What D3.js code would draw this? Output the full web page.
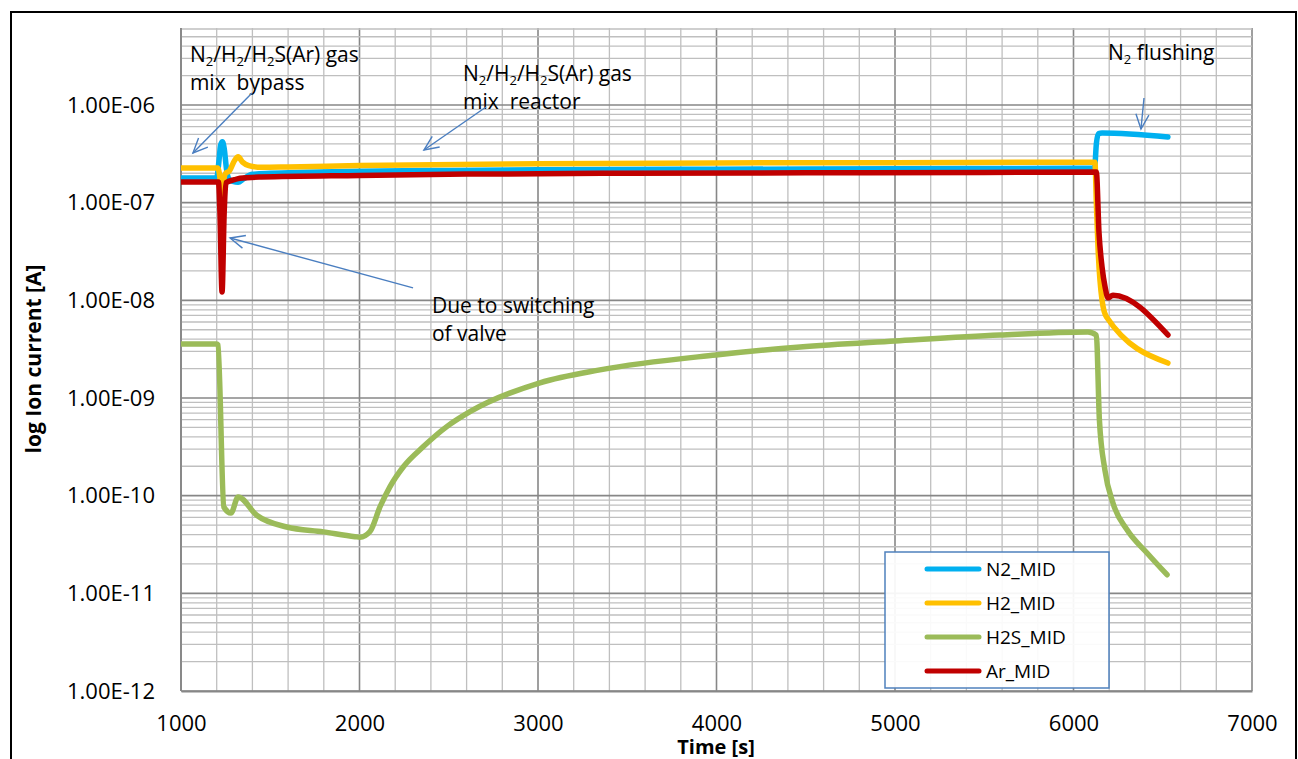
<!DOCTYPE html>
<html>
<head>
<meta charset="utf-8">
<script src="https://cdn.jsdelivr.net/npm/d3@7"></script>
<style>
  body { margin: 0; background: #fff; }
  svg { display: block; font-family: "Open Sans", "Liberation Sans", sans-serif; }
  .ann { white-space: pre; }
</style>
</head>
<body>
<svg id="chart" width="1298" height="759"></svg>
<script>
// ---------------- data ----------------
const seriesNames = ["N2_MID", "H2_MID", "H2S_MID", "Ar_MID"];

const n2Time = [1000, 1200, 1212, 1222, 1232, 1242, 1255, 1268, 1290, 1320, 1350, 1400, 1500, 1700, 2000, 2500, 3000, 4000, 5000, 6000, 6118, 6128, 6140, 6160, 6529];
const n2Values = [1.79e-7, 1.79e-7, 2.6e-7, 3.9e-7, 4.2e-7, 3.6e-7, 2.2e-7, 1.75e-7, 1.65e-7, 1.62e-7, 1.75e-7, 1.95e-7, 2.0e-7, 2.05e-7, 2.1e-7, 2.14e-7, 2.17e-7, 2.2e-7, 2.22e-7, 2.25e-7, 2.25e-7, 4.0e-7, 5.1e-7, 5.17e-7, 4.7e-7];

const h2Time = [1000, 1205, 1218, 1228, 1238, 1250, 1270, 1300, 1320, 1345, 1380, 1450, 1600, 2000, 3000, 4000, 5000, 6000, 6120, 6128, 6138, 6160, 6185, 6529];
const h2Values = [2.27e-7, 2.27e-7, 1.8e-7, 1.0e-7, 1.6e-7, 2.0e-7, 2.1e-7, 2.7e-7, 2.95e-7, 2.6e-7, 2.4e-7, 2.3e-7, 2.32e-7, 2.4e-7, 2.5e-7, 2.55e-7, 2.57e-7, 2.6e-7, 2.6e-7, 1.0e-7, 3.27e-8, 1.0e-8, 6.76e-9, 2.28e-9];

const h2sTime = [1000, 1200, 1207, 1240, 1280, 1320, 1424, 1592, 1797, 1975, 2003, 2059, 2115, 2171, 2246, 2358, 2489, 2619, 3011, 3347, 3997, 4468, 5000, 5588, 6081, 6128, 6145, 6176, 6221, 6300, 6412, 6524];
const h2sValues = [3.57e-9, 3.57e-9, 3.5e-9, 7.66e-11, 6.65e-11, 9.7e-11, 6.3e-11, 4.78e-11, 4.26e-11, 3.8e-11, 3.76e-11, 4.3e-11, 7.7e-11, 1.24e-10, 1.98e-10, 3.18e-10, 5.09e-10, 7.24e-10, 1.43e-9, 1.94e-9, 2.76e-9, 3.33e-9, 3.83e-9, 4.41e-9, 4.74e-9, 4.4e-9, 6.0e-10, 1.83e-10, 8.4e-11, 4.47e-11, 2.59e-11, 1.55e-11];

const arTime = [1000, 1210, 1218, 1230, 1242, 1252, 1300, 1330, 1450, 2000, 2600, 3500, 4500, 5500, 6128, 6143, 6160, 6177, 6193, 6221, 6529];
const arValues = [1.63e-7, 1.63e-7, 8e-8, 1.22e-8, 8e-8, 1.6e-7, 1.72e-7, 1.78e-7, 1.83e-7, 1.9e-7, 1.96e-7, 2.0e-7, 2.02e-7, 2.04e-7, 2.06e-7, 4.89e-8, 2.19e-8, 1.37e-8, 1.06e-8, 1.13e-8, 4.42e-9];

const seriesColors = ["#00B0F0", "#FFC000", "#9BBB59", "#C00000"];

const xTickValues = [1000, 2000, 3000, 4000, 5000, 6000, 7000];
const yTickValues = [1e-12, 1e-11, 1e-10, 1e-9, 1e-8, 1e-7, 1e-6];

// annotations: text lines (with _x subscripts) anchored in data coordinates
const annotationTexts = [
  ["N_2/H_2/H_2S(Ar) gas", "mix  bypass"],
  ["N_2/H_2/H_2S(Ar) gas", "mix  reactor"],
  ["Due to switching", "of valve"],
  ["N_2 flushing"]
];
const annotationAnchors = [[1050, 2.75e-6], [2580, 1.75e-6], [2406, 7.4e-9], [6193, 2.9e-6]];
const arrowFrom = [[1398, 1.33e-6], [2709, 9.54e-7], [2300, 1.34e-8], [6395, 1.18e-6]];
const arrowTo = [[1067, 3.23e-7], [2361, 3.46e-7], [1275, 4.35e-8], [6378, 5.68e-7]];

// ---------------- layout ----------------
const svg = d3.select("#chart");
const plotLeft = 181, plotRight = 1252, plotTop = 28, plotBottom = 691;

const x = d3.scaleLinear().domain([1000, 7000]).range([plotLeft, plotRight]);
const y = d3.scaleLog().domain([1e-12, 1e-6]).range([plotBottom, 105]);
const yMax = y.invert(plotTop);

// outer frame
svg.append("rect").attr("x", 11).attr("y", 12).attr("width", 1285).attr("height", 800)
  .attr("fill", "#fff").attr("stroke", "#000").attr("stroke-width", 2);

// gridlines
const grid = svg.append("g");
const xGrid = d3.range(1000, 7001, 200);
grid.selectAll("line.vx").data(xGrid).join("line")
  .attr("x1", d => x(d)).attr("x2", d => x(d))
  .attr("y1", plotTop).attr("y2", plotBottom)
  .attr("stroke", d => d % 1000 === 0 ? "#878787" : "#BFBFBF")
  .attr("stroke-width", d => d % 1000 === 0 ? 1.6 : 1.3);

const yGrid = [];
for (let e = -12; e <= -6; e++) {
  for (let m = 1; m <= 9; m++) {
    const v = m * Math.pow(10, e);
    if (v <= yMax * 1.0001) yGrid.push({ v, major: m === 1 });
  }
}
grid.selectAll("line.hy").data(yGrid).join("line")
  .attr("x1", plotLeft).attr("x2", plotRight)
  .attr("y1", d => y(d.v)).attr("y2", d => y(d.v))
  .attr("stroke", d => d.major ? "#878787" : "#BFBFBF")
  .attr("stroke-width", d => d.major ? 1.6 : 1.3);

// axes
function fmtExp(d) {
  const e = Math.round(Math.log10(d));
  const m = d / Math.pow(10, e);
  const s = e < 0 ? "-" : "+";
  return m.toFixed(2) + "E" + s + String(Math.abs(e)).padStart(2, "0");
}
const xAxis = svg.append("g").attr("transform", `translate(0,${plotBottom})`)
  .call(d3.axisBottom(x).tickValues(xTickValues).tickSize(0).tickPadding(24).tickFormat(d3.format("d")));
const yAxis = svg.append("g").attr("transform", `translate(${plotLeft},0)`)
  .call(d3.axisLeft(y).tickValues(yTickValues).tickSize(0).tickPadding(26).tickFormat(fmtExp));
[xAxis, yAxis].forEach(a => {
  a.select(".domain").attr("stroke", "#878787").attr("stroke-width", 1.8);
  a.selectAll("text").attr("font-size", 22).attr("fill", "#000")
    .attr("font-family", "'Open Sans', sans-serif");
});
yAxis.select(".domain").attr("d", `M0,${plotBottom}V${plotTop}`);

// axis titles
svg.append("text").attr("x", 716).attr("y", 754).attr("text-anchor", "middle")
  .attr("font-size", 20).attr("font-weight", "bold").text("Time [s]");
svg.append("text").attr("transform", "translate(41,359) rotate(-90)").attr("text-anchor", "middle")
  .attr("font-size", 21).attr("font-weight", "bold").text("log Ion current [A]");

// series
svg.append("clipPath").attr("id", "plotClip").append("rect")
  .attr("x", plotLeft).attr("y", plotTop).attr("width", plotRight - plotLeft).attr("height", plotBottom - plotTop);

const allTimes = [n2Time, h2Time, h2sTime, arTime];
const allValues = [n2Values, h2Values, h2sValues, arValues];
const series = seriesNames.map((name, i) => ({
  name, color: seriesColors[i],
  points: allTimes[i].map((t, j) => ({ t, v: allValues[i][j] }))
}));
const line = d3.line().x(d => x(d.t)).y(d => y(d.v)).curve(d3.curveMonotoneX);
svg.append("g").attr("clip-path", "url(#plotClip)")
  .selectAll("path").data(series).join("path")
  .attr("d", d => line(d.points))
  .attr("fill", "none").attr("stroke", d => d.color).attr("stroke-width", 5.5)
  .attr("stroke-linejoin", "round").attr("stroke-linecap", "round");

// annotations
function addRichText(g, str, px, py, size) {
  const t = g.append("text").attr("class", "ann").attr("x", px).attr("y", py)
    .attr("font-size", size).attr("fill", "#000");
  const parts = str.split(/(_\d)/);
  let shifted = false;
  parts.forEach(p => {
    if (!p) return;
    if (p.startsWith("_")) {
      t.append("tspan").attr("font-size", size * 0.62).attr("dy", 4).text(p.slice(1));
      shifted = true;
    } else {
      const ts = t.append("tspan").text(p);
      if (shifted) { ts.attr("dy", -4); shifted = false; }
    }
  });
}
const ann = svg.append("g");
annotationTexts.forEach((lines, i) => {
  const [t, v] = annotationAnchors[i];
  lines.forEach((s, k) => addRichText(ann, s, x(t), y(v) + k * 28, 21));
});

// arrows
const arrows = svg.append("g").attr("stroke", "#4A7EC0").attr("stroke-width", 1.4).attr("fill", "none");
arrowFrom.forEach((f, i) => {
  const x1 = x(f[0]), y1 = y(f[1]);
  const x2 = x(arrowTo[i][0]), y2 = y(arrowTo[i][1]);
  arrows.append("line").attr("x1", x1).attr("y1", y1).attr("x2", x2).attr("y2", y2);
  const ang = Math.atan2(y1 - y2, x1 - x2);
  const len = 16, spread = 0.42;
  const a1 = [x2 + len * Math.cos(ang + spread), y2 + len * Math.sin(ang + spread)];
  const a2 = [x2 + len * Math.cos(ang - spread), y2 + len * Math.sin(ang - spread)];
  arrows.append("path").attr("d", `M${a1[0]},${a1[1]}L${x2},${y2}L${a2[0]},${a2[1]}`);
});

// legend
const legend = svg.append("g");
legend.append("rect").attr("x", 885).attr("y", 552).attr("width", 224).attr("height", 136)
  .attr("fill", "#fff").attr("fill-opacity", 0.92).attr("stroke", "#4F81BD").attr("stroke-width", 1.5);
series.forEach((s, i) => {
  const ly = 569 + i * 34;
  legend.append("line").attr("x1", 927).attr("x2", 979).attr("y1", ly).attr("y2", ly)
    .attr("stroke", s.color).attr("stroke-width", 5).attr("stroke-linecap", "round");
  legend.append("text").attr("x", 986).attr("y", ly).attr("dy", "0.36em")
    .attr("font-size", 19).text(s.name);
});
</script>
</body>
</html>
